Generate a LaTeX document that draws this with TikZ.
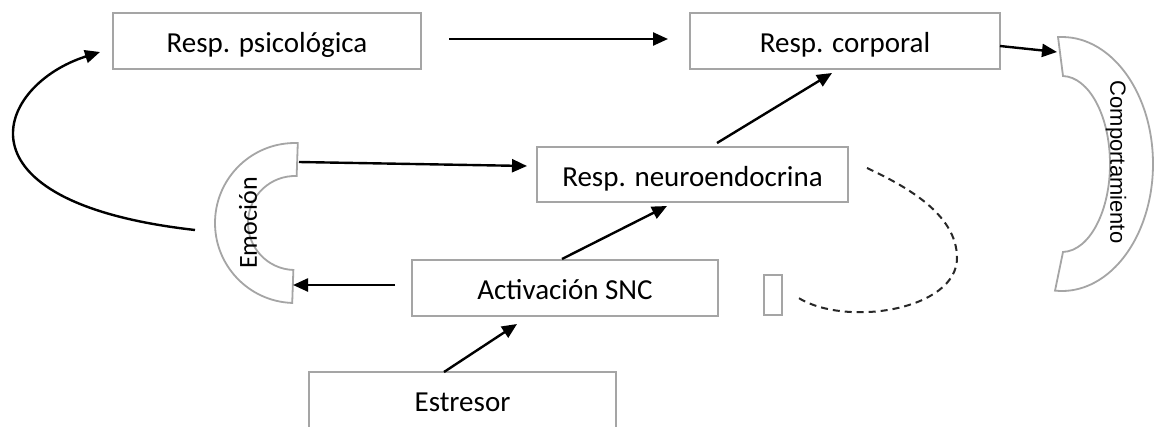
\documentclass[tikz,border=0pt]{standalone}
\usepackage{fontspec}
\setmainfont{Carlito}
\newfontfamily\arialf{Liberation Sans}
\usetikzlibrary{arrows.meta,calc}
\definecolor{boxgray}{RGB}{165,165,165}
\definecolor{dashgray}{RGB}{40,40,40}
\begin{document}
\begin{tikzpicture}[x=1pt,y=-1pt,
  box/.style={draw=boxgray, line width=2.2pt, fill=white, minimum height=56pt,
    inner sep=0pt, outer sep=0pt, text height=26pt, text depth=3pt,
    font=\fontsize{29pt}{34pt}\selectfont},
  arr/.style={line width=2.4pt, -{Triangle[length=15pt,width=13pt]}},
  shp/.style={draw=boxgray, line width=1.8pt},
  dsh/.style={draw=dashgray, line width=2pt, dash pattern=on 7pt off 5pt}]
\clip (0,0) rectangle (1154,426);
\fill[white] (0,0) rectangle (1154,426);

% boxes
\node[box, minimum width=308pt] (psico) at (267,41) {Resp. psicológica};
\node[box, minimum width=310pt] (corp) at (845,41) {Resp. corporal};
\node[box, minimum width=311pt, minimum height=55pt] (neuro) at (692.5,174.5) {Resp. neuroendocrina};
\node[box, minimum width=306pt] (snc) at (565,288) {Activación SNC};
\node[box, minimum width=307pt] (estr) at (462.5,400) {Estresor};
\node[draw=boxgray, line width=2.2pt, minimum width=18pt, minimum height=40pt,
  inner sep=0pt, outer sep=0pt] (rect) at (773,295) {};

% Emocion block arc
\coordinate (E) at (295,223);
\draw[shp] ($(E)+(92:80)$) arc[start angle=92, end angle=272, radius=80]
  -- ($(E)+(272:47)$) arc[start angle=272, end angle=92, radius=47] -- cycle;
\node[rotate=90, font=\fontsize{26pt}{30pt}\selectfont, inner sep=0pt] (emo) at (248,223) {Emoción};
\coordinate (emoTop) at (299,162);
\coordinate (emoBot) at (293,285);
\coordinate (emoLeft) at (195,230);

% Comportamiento block arc
\coordinate (C) at (1062,164);
\draw[shp] ($(C)+({91*cos(-92.5)},{127*sin(-92.5)})$)
  arc[start angle=-92.5, end angle=94.4, x radius=91, y radius=127]
  -- ($(C)+({48*cos(88.8)},{88*sin(88.8)})$)
  arc[start angle=88.8, end angle=-88.8, x radius=48, y radius=88] -- cycle;
\node[rotate=-90, font=\arialf\fontsize{22pt}{26pt}\selectfont, inner sep=0pt] (comp) at (1116,162) {Comportamiento};
\coordinate (compIn) at (1057,52);

% connectors
\draw[arr] ([shift={(28pt,2pt)}]psico.east) -- ([shift={(-22pt,2pt)}]corp.west);
\draw[arr] ([shift={(24.5pt,4pt)}]neuro.north) -- ([shift={(-13pt,-4pt)}]corp.south);
\draw[arr] ([shift={(-3pt,1pt)}]snc.north) -- ([shift={(-25.5pt,-4pt)}]neuro.south);
\draw[arr] ([xshift=-18.5pt]estr.north) -- ([shift={(-48pt,-8pt)}]snc.south);
\draw[arr] ([shift={(-17pt,3pt)}]snc.west) -- (emoBot);
\draw[arr] (emoTop) -- ([shift={(-10pt,8.5pt)}]neuro.west);
\draw[arr] ([yshift=-5pt]corp.east) -- (compIn);
\draw[arr] (emoLeft) .. controls +(-248,-28) and +(-103.5,32.7) .. ([shift={(-13pt,-11pt)}]psico.west);

% dashed loop
\coordinate (dr) at (957,258);
\draw[dsh] ([shift={(19pt,6.5pt)}]neuro.east) .. controls +(36,17) and +(0,-45) .. (dr)
  .. controls +(0,52) and +(48,31) .. ([shift={(15pt,-2pt)}]rect.east);
\end{tikzpicture}
\end{document}
